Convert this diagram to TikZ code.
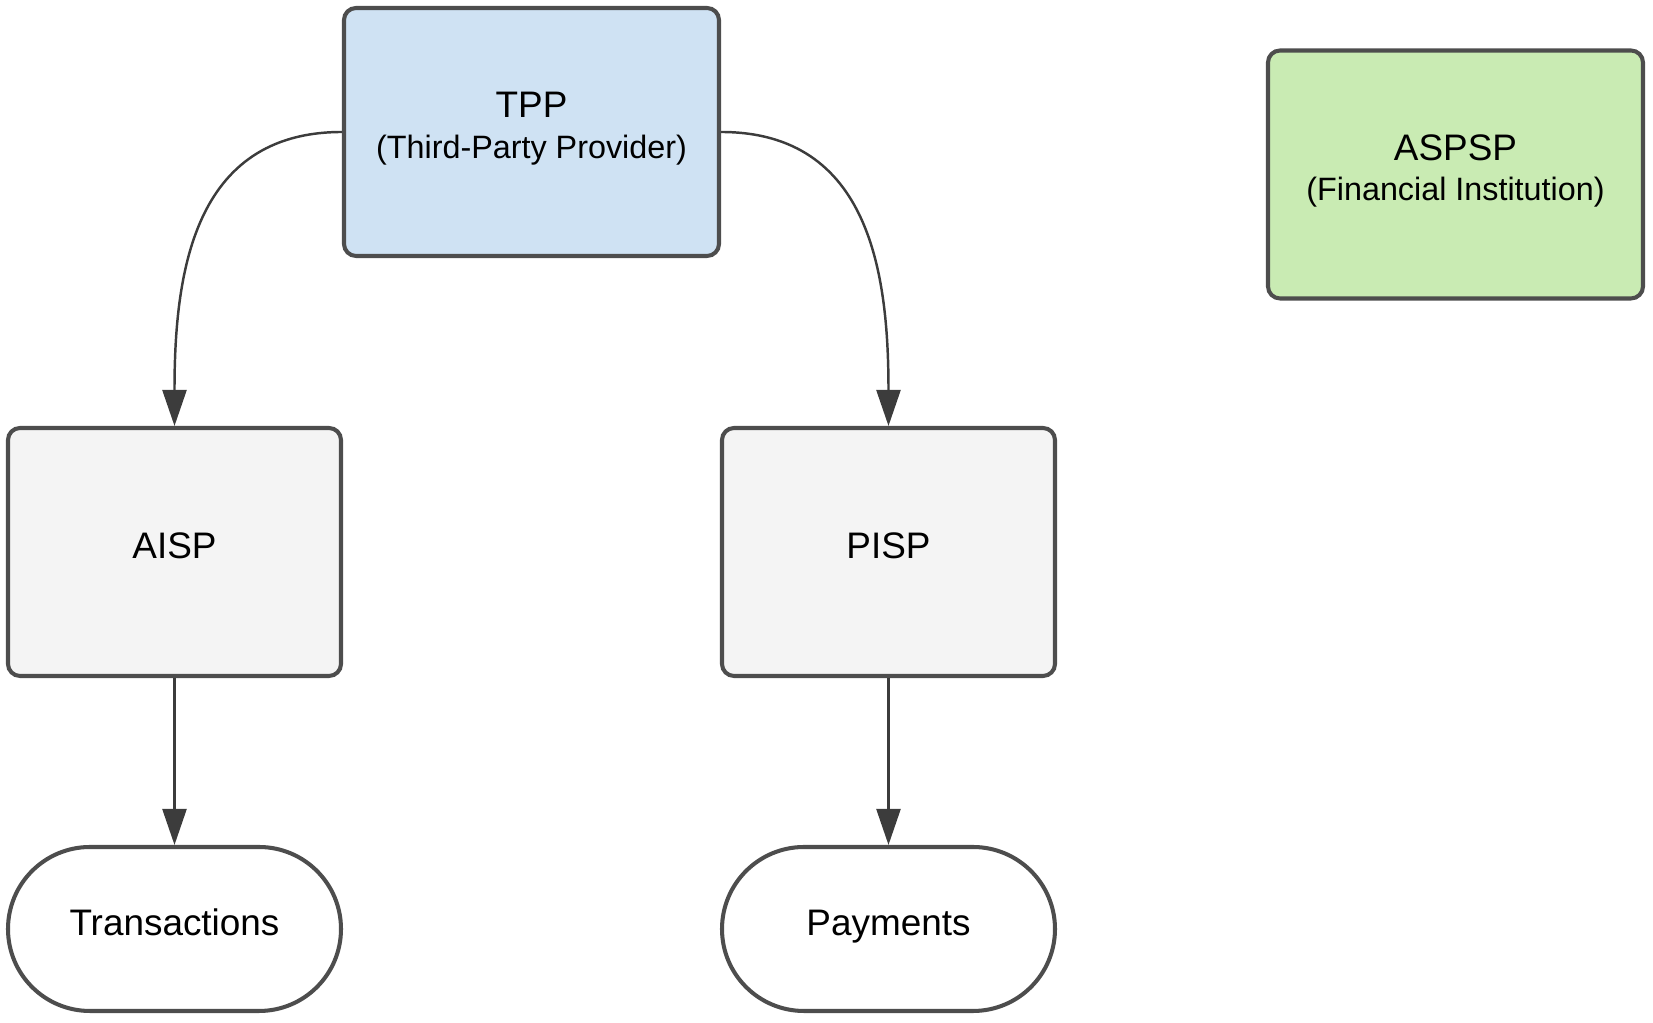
\documentclass[tikz,border=0pt]{standalone}
\usepackage{fontspec}
\setmainfont{Liberation Sans}
\usetikzlibrary{arrows.meta,positioning}

\definecolor{tppblue}{HTML}{CFE2F3}
\definecolor{aspspgreen}{HTML}{C9EBB3}
\definecolor{boxgray}{HTML}{F4F4F4}
\definecolor{edgegray}{HTML}{4D4D4D}
\definecolor{arrowgray}{HTML}{3C3C3C}

\begin{document}
\begin{tikzpicture}[>={Triangle[length=3.6mm,width=2.4mm]},
    box/.style={draw=edgegray, line width=1.15pt, rounded corners=1.2mm,
        minimum width=3.33cm, minimum height=2.48cm, align=center,
        text depth=3.8pt, font=\fontsize{10.5}{12.5}\selectfont},
    wide/.style={box, minimum width=3.75cm},
    pill/.style={draw=edgegray, line width=1.15pt, fill=white, rounded corners=8.2mm,
        minimum width=3.33cm, minimum height=1.64cm, text height=7.6pt,
        text depth=3.8pt, font=\fontsize{10.5}{12.5}\selectfont},
    flow/.style={->, arrowgray, line width=0.7pt}]
    \useasboundingbox (0,0) rectangle (16.53,-10.23);

    % top row
    \node[wide, fill=tppblue] (tpp) at (5.315,-1.32)
        {TPP\\[-1pt]{\fontsize{9.2}{12}\selectfont (Third-Party Provider)}};
    \node[wide, fill=aspspgreen] (aspsp) at (14.555,-1.745)
        {ASPSP\\[-1pt]{\fontsize{9.2}{12}\selectfont (Financial Institution)}};

    % service providers
    \node[box, fill=boxgray] (aisp) at (1.745,-5.52) {AISP};
    \node[box, fill=boxgray] (pisp) at (8.885,-5.52) {PISP};

    % outcomes
    \node[pill] (trans) at (1.745,-9.29) {Transactions};
    \node[pill] (pay) at (8.885,-9.29) {Payments};

    % connectors
    \draw[flow] (tpp.west) to[out=180, in=90, out distance=1.5cm, in distance=1.5cm] (aisp.north);
    \draw[flow] (tpp.east) to[out=0, in=90, out distance=1.5cm, in distance=1.5cm] (pisp.north);
    \draw[flow] (aisp) -- (trans);
    \draw[flow] (pisp) -- (pay);
\end{tikzpicture}
\end{document}
